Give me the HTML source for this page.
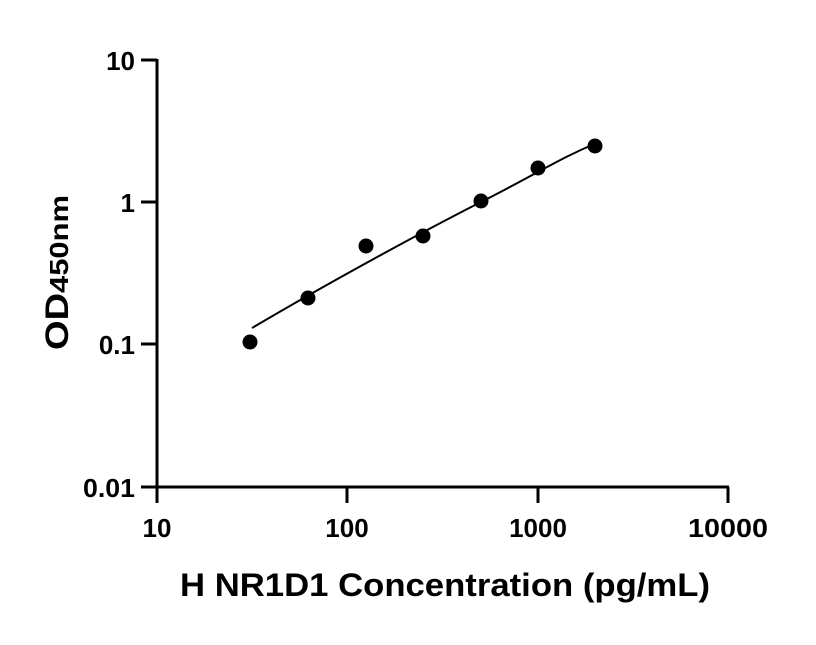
<!DOCTYPE html>
<html><head><style>body{margin:0;background:#fff}</style></head><body>
<svg width="816" height="640" xmlns="http://www.w3.org/2000/svg" font-family="Liberation Sans, sans-serif" font-weight="bold">
<g stroke="#000" stroke-width="3" fill="none">
<line x1="157" y1="59" x2="157" y2="503"/>
<line x1="141" y1="487" x2="729" y2="487"/>
<line x1="141" y1="60" x2="157" y2="60"/>
<line x1="141" y1="202" x2="157" y2="202"/>
<line x1="141" y1="344" x2="157" y2="344"/>
<line x1="347" y1="487" x2="347" y2="503"/>
<line x1="538" y1="487" x2="538" y2="503"/>
<line x1="728" y1="487" x2="728" y2="503"/>
</g>
<g font-size="26" text-anchor="end">
<text x="135" y="70">10</text>
<text x="135" y="212">1</text>
<text x="135" y="354">0.1</text>
<text x="135" y="497" textLength="52" lengthAdjust="spacingAndGlyphs">0.01</text>
</g>
<g font-size="26" text-anchor="middle">
<text x="157" y="537">10</text>
<text x="347" y="537">100</text>
<text x="538" y="537">1000</text>
<text x="728" y="537" textLength="80" lengthAdjust="spacingAndGlyphs">10000</text>
</g>
<text x="180" y="596" font-size="32" textLength="530" lengthAdjust="spacingAndGlyphs">H NR1D1 Concentration (pg/mL)</text>
<text transform="translate(68,350) rotate(-90)" font-size="32" textLength="155" lengthAdjust="spacingAndGlyphs">OD<tspan font-size="26">450nm</tspan></text>
<path d="M252,328 C330,282 420,233 481,202 S560,158 597,143" stroke="#000" stroke-width="2" fill="none"/>
<g fill="#000">
<circle cx="250" cy="342" r="7.5"/>
<circle cx="308" cy="298" r="7.5"/>
<circle cx="366" cy="246" r="7.5"/>
<circle cx="423" cy="236" r="7.5"/>
<circle cx="481" cy="201" r="7.5"/>
<circle cx="538" cy="168" r="7.5"/>
<circle cx="595" cy="146" r="7.5"/>
</g>
</svg>
</body></html>
